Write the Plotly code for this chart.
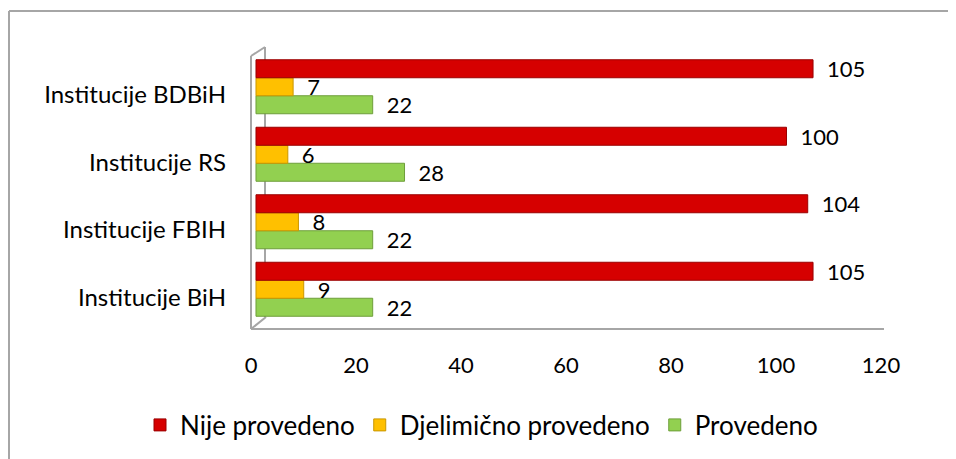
import plotly.graph_objects as go

categories = ["Institucije BiH", "Institucije FBIH", "Institucije RS", "Institucije BDBiH"]
nije_provedeno = [105, 104, 100, 105]
djelimicno_provedeno = [9, 8, 6, 7]
provedeno = [22, 22, 28, 22]
x_ticks = [0, 20, 40, 60, 80, 100, 120]

OFF = 8  # page body margin
W_FIG, H_FIG = 956 - OFF, 459 - OFF
# plot area in screenshot pixel coordinates
L_IMG, R_IMG, T_IMG, B_IMG = 251, 881, 53, 323
L, R, T, B = L_IMG - OFF, R_IMG - OFF, T_IMG - OFF, B_IMG - OFF
PW, PH = R - L, B - T

def px(x):
    return (x - OFF - L) / PW

def py(y):
    return (B - (y - OFF)) / PH

FONT = "Lato"
FS = 24
FSN = 22
FSL = 26
GRAY = "#A6A6A6"

fig = go.Figure()

series = [
    ("Provedeno", provedeno, "#92D050", "#6E9E3A"),
    ("Djelimično provedeno", djelimicno_provedeno, "#FFC000", "#C99700"),
    ("Nije provedeno", nije_provedeno, "#D60000", "#9A0000"),
]
for name, vals, col, edge in series:
    fig.add_trace(go.Bar(
        y=categories, x=vals, name=name, orientation="h",
        marker=dict(color=col, line=dict(color=edge, width=1)),
        text=vals, texttemplate="\u2002%{x}", textposition="outside",
        constraintext="none",
        textfont=dict(family=FONT, size=FSN, color="#000000"),
        cliponaxis=False, xaxis="x", yaxis="y",
    ))

# dummy trace to bind the visible value axis
fig.add_trace(go.Scatter(
    x=[x_ticks[0], x_ticks[-1]], y=[categories[0], categories[0]],
    xaxis="x2", yaxis="y", mode="markers", marker=dict(opacity=0),
    hoverinfo="skip", showlegend=False,
))

shapes = []
def line(x0, y0, x1, y1, w=2):
    shapes.append(dict(type="line", xref="paper", yref="paper",
                       x0=px(x0), y0=py(y0), x1=px(x1), y1=py(y1),
                       line=dict(color=GRAY, width=w), layer="below"))

# 3D frame
line(265, 47, 265, 317)
line(251, 56, 251, 329)
line(251, 56, 265, 47)
line(251, 329, 266, 317)
line(251, 329, 884, 329)
# outer chart border (left + top)
line(9, 11, 9, 470)
line(9, 11, 970, 11)

fig.update_layout(
    width=W_FIG, height=H_FIG,
    margin=dict(l=L, r=W_FIG - R, t=T, b=H_FIG - B, pad=0, autoexpand=False),
    paper_bgcolor="white", plot_bgcolor="white",
    barmode="group", bargap=0.2, bargroupgap=0,
    font=dict(family=FONT, size=FS, color="#000000"),
    showlegend=True,
    legend=dict(orientation="h", traceorder="reversed",
                x=px(140), xanchor="left", y=py(425), yanchor="middle",
                font=dict(family=FONT, size=FSL), itemwidth=30,
                bgcolor="rgba(0,0,0,0)"),
    xaxis=dict(range=[-0.94, 117.81], visible=False, fixedrange=True),
    xaxis2=dict(overlaying="x", anchor="y", side="bottom", range=[0, 120],
                tickvals=x_ticks, ticks="", showgrid=False, showline=False,
                zeroline=False, ticklabelstandoff=27,
                tickfont=dict(family=FONT, size=FSN)),
    yaxis=dict(type="category", categoryorder="array", categoryarray=categories,
               range=[-0.5, 3.5], showgrid=False, showline=False, zeroline=False,
               ticks="", ticklabelstandoff=24, ticklabelshift=8,
               tickfont=dict(family=FONT, size=FS)),
    shapes=shapes,
    hovermode=False,
)

fig.write_html(
    "out.html",
    config={"displayModeBar": False},
    post_script="document.documentElement.style.overflow='hidden';document.body.style.overflow='hidden';",
)
